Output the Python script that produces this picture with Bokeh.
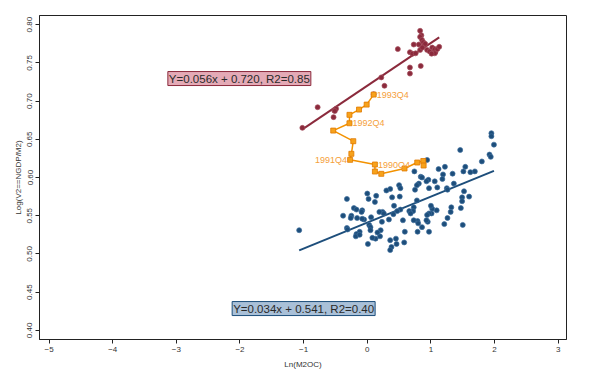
from bokeh.plotting import figure
from bokeh.models import Range1d, FixedTicker, Label, ColumnDataSource
from bokeh.core.properties import value
from bokeh.embed import file_html
from bokeh.resources import INLINE

# ---------------- data ----------------
x_ticks = [-5, -4, -3, -2, -1, 0, 1, 2, 3]
x_tick_labels = ["\u22125", "\u22124", "\u22123", "\u22122", "\u22121", "0", "1", "2", "3"]
y_ticks = [0.40, 0.45, 0.50, 0.55, 0.60, 0.65, 0.70, 0.75, 0.80]
y_tick_labels = ["0.40", "0.45", "0.50", "0.55", "0.60", "0.65", "0.70", "0.75", "0.80"]

blue_x = [1.95, 1.95, 1.99, 1.46, 1.92, 1.94, 1.80, 0.94, 1.12, 1.22, 1.54, 1.51, 1.69, 1.62,
          1.34, 1.19, 0.74, 0.84, 0.86, 1.18, 0.96, 0.93, 1.06, 1.36, 0.81, 0.78, 1.10, 0.97,
          1.25, 1.26, 0.75, 0.36, 0.50, 0.52, 0.30, 1.52, 1.60, 1.49, 1.49, 0.78, 0.51, 0.39,
          0.12, 0.00, 0.02, 0.14, -0.32, 1.47, 1.32, 1.31, 1.09, 1.02, 1.00, 1.01, 0.97, 0.73,
          0.72, 0.66, 0.68, 0.52, 0.47, 0.42, 0.24, 0.26, 0.19, -0.21, -0.17, -0.08, -0.09,
          -0.25, -0.38, 1.26, 1.50, 1.21, 0.94, 0.95, 0.93, 0.79, 0.80, 0.73, 0.86, 0.56, 0.41,
          0.34, 0.23, 0.06, 0.03, 0.05, -0.05, -0.08, -0.16, -0.26, -0.32, -0.31, 0.21, 0.79,
          0.97, 0.59, 0.45, 0.46, 0.58, 0.36, 0.38, 0.20, 0.13, 0.16, 0.08, 0.01, 0.36, -0.12,
          -0.17, -0.18, -0.12, 0.05, -1.07]
blue_y = [0.658, 0.654, 0.643, 0.636, 0.630, 0.627, 0.621, 0.623, 0.611, 0.614, 0.614, 0.608,
          0.608, 0.607, 0.605, 0.604, 0.608, 0.601, 0.600, 0.598, 0.597, 0.595, 0.595, 0.592,
          0.592, 0.590, 0.587, 0.586, 0.586, 0.584, 0.584, 0.585, 0.590, 0.586, 0.583, 0.582,
          0.575, 0.574, 0.569, 0.570, 0.575, 0.574, 0.568, 0.579, 0.572, 0.576, 0.572, 0.560,
          0.561, 0.555, 0.557, 0.559, 0.563, 0.553, 0.553, 0.561, 0.556, 0.556, 0.553, 0.558,
          0.556, 0.563, 0.555, 0.553, 0.555, 0.560, 0.558, 0.557, 0.555, 0.550, 0.550, 0.547,
          0.538, 0.539, 0.551, 0.542, 0.544, 0.543, 0.540, 0.544, 0.535, 0.544, 0.552, 0.545,
          0.542, 0.548, 0.538, 0.535, 0.545, 0.546, 0.547, 0.547, 0.534, 0.532, 0.531, 0.529,
          0.529, 0.529, 0.520, 0.513, 0.515, 0.518, 0.509, 0.523, 0.520, 0.528, 0.521, 0.513,
          0.505, 0.529, 0.526, 0.523, 0.525, 0.531, 0.531]

red_x = [-1.02, -0.78, -0.52, -0.49, -0.51, -0.53, 0.10, 0.27, 0.22, 0.48, 0.67, 0.67, 0.84,
         0.67, 0.71, 0.76, 0.73, 0.81, 0.83, 0.85, 0.83, 0.86, 0.88, 0.89, 0.83, 0.865, 0.94,
         0.98, 1.02, 1.05, 1.07, 1.06, 1.10, 1.13, 1.06, 1.01, 0.91]
red_y = [0.665, 0.692, 0.688, 0.690, 0.687, 0.679, 0.709, 0.720, 0.731, 0.768, 0.744, 0.736,
         0.746, 0.764, 0.762, 0.7625, 0.774, 0.774, 0.792, 0.786, 0.784, 0.780, 0.777, 0.7725,
         0.767, 0.770, 0.767, 0.765, 0.770, 0.766, 0.764, 0.768, 0.768, 0.771, 0.7625, 0.762,
         0.775]

orange_x = [0.10, -0.01, -0.13, -0.28, -0.28, -0.535, -0.22, -0.25, -0.27, 0.12, 0.12, 0.22,
            0.585, 0.785, 0.88, 0.885]
orange_y = [0.7085, 0.6954, 0.6889, 0.6820, 0.6710, 0.6614, 0.6475, 0.6310, 0.6231, 0.6170,
            0.6078, 0.6048, 0.6118, 0.6196, 0.6216, 0.6157]
orange_labels = ["1993Q4", "", "", "", "1992Q4", "", "", "", "1991Q4", "1990Q4", "", "", "", "", "", ""]

red_fit = (0.056, 0.720)
red_fit_text = "Y=0.056x + 0.720, R2=0.85"
blue_fit = (0.034, 0.541)
blue_fit_text = "Y=0.034x + 0.541, R2=0.40"

x_title = "Ln(M2OC)"
y_title = "Log(V2==NGDP/M2)"

# ---------------- colours ----------------
BLUE = "#1d4e7b"
RED = "#8b2a3c"
ORANGE = "#f39200"
FONT = "Liberation Sans"

p = figure(width=592, height=372, output_backend="svg", toolbar_location=None,
           x_range=Range1d(-5.15, 3.13), y_range=Range1d(0.388, 0.812),
           min_border_left=39, min_border_right=26, min_border_top=15, min_border_bottom=33)
p.xgrid.visible = False
p.ygrid.visible = False
p.outline_line_color = "#222222"
p.outline_line_width = 1
p.background_fill_color = "white"
p.border_fill_color = "white"

for ax, ticks, labels in ((p.xaxis[0], x_ticks, x_tick_labels), (p.yaxis[0], y_ticks, y_tick_labels)):
    ax.ticker = FixedTicker(ticks=ticks)
    ax.major_label_overrides = {t: l for t, l in zip(ticks, labels)}
    ax.minor_tick_line_color = None
    ax.major_tick_in = 0
    ax.major_tick_out = 4
    ax.major_tick_line_color = "#222222"
    ax.axis_line_color = "#222222"
    ax.major_label_text_font = FONT
    ax.major_label_text_font_size = "8px"
    ax.major_label_text_color = "#333333"
    ax.axis_label_text_font = FONT
    ax.axis_label_text_font_size = "8px"
    ax.axis_label_text_font_style = "normal"
    ax.axis_label_text_color = "#333333"
    ax.major_label_standoff = 3

p.xaxis.axis_label_standoff = 5
p.yaxis.axis_label_standoff = 2
p.xaxis.axis_label = x_title
p.yaxis.axis_label = y_title
p.yaxis.major_label_orientation = "parallel"

# fit lines over data extent
bx = [min(blue_x), max(blue_x)]
p.line(bx, [blue_fit[0] * v + blue_fit[1] for v in bx], line_color=BLUE, line_width=2)
rx = [min(red_x), max(red_x)]
p.line(rx, [red_fit[0] * v + red_fit[1] for v in rx], line_color=RED, line_width=2)

p.scatter(blue_x, blue_y, size=5, fill_color=BLUE, line_color="#3f6f9c", line_width=0.7)
p.scatter(red_x, red_y, size=5, fill_color=RED, line_color="#a5505f", line_width=0.7)

p.line(orange_x, orange_y, line_color=ORANGE, line_width=1.5)
p.scatter(orange_x, orange_y, marker="square", size=5, fill_color="#f7a21b",
          line_color="#e07a00", line_width=0.8)

left_lab = ColumnDataSource(dict(
    x=[x for x, l in zip(orange_x, orange_labels) if l == "1991Q4"],
    y=[y for y, l in zip(orange_y, orange_labels) if l == "1991Q4"],
    t=[l for l in orange_labels if l == "1991Q4"]))
right_lab = ColumnDataSource(dict(
    x=[x for x, l in zip(orange_x, orange_labels) if l and l != "1991Q4"],
    y=[y for y, l in zip(orange_y, orange_labels) if l and l != "1991Q4"],
    t=[l for l in orange_labels if l and l != "1991Q4"]))
p.text(x="x", y="y", text="t", source=right_lab, x_offset=3, text_align="left",
       text_baseline="middle", text_font=value(FONT), text_font_size="9px", text_color="#f5a03a")
p.text(x="x", y="y", text="t", source=left_lab, x_offset=-3, text_align="right",
       text_baseline="middle", text_font=value(FONT), text_font_size="9px", text_color="#f5a03a")

p.add_layout(Label(x=-2.01, y=0.7295, text=red_fit_text, text_align="center",
                   text_baseline="middle", text_font=FONT, text_font_size="11.5px",
                   text_color="#2a2a2a", background_fill_color="#e4aab6",
                   border_line_color=RED, border_line_width=1, padding=1))
p.add_layout(Label(x=-1.0, y=0.4285, text=blue_fit_text, text_align="center",
                   text_baseline="middle", text_font=FONT, text_font_size="11.5px",
                   text_color="#2a2a2a", background_fill_color="#a9c0d8",
                   border_line_color=BLUE, border_line_width=1, padding=1))

open("out.html", "w").write(file_html(p, INLINE))
